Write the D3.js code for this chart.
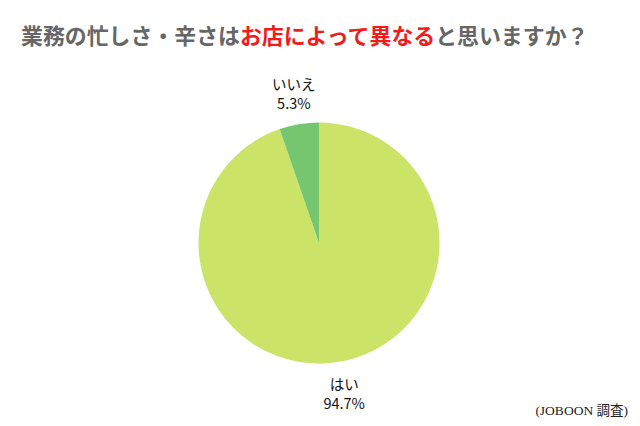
<!DOCTYPE html>
<html><head><meta charset="utf-8">
<script src="https://cdn.jsdelivr.net/npm/d3@7"></script>
<style>body{margin:0;background:#fff;}svg{display:block;}</style>
</head><body>
<svg id="c" width="640" height="426"></svg>
<script>
const categories = ["はい", "いいえ"];
const values = [94.7, 5.3];
const valueLabels = ["94.7%", "5.3%"];
const colors = ["#cbe367", "#75c66f"];

const svg = d3.select("#c");
svg.append("rect").attr("width",640).attr("height",426).attr("fill","#fff");

const title = svg.append("text").attr("x",21).attr("y",44)
  .attr("font-family","'Noto Sans CJK JP', sans-serif").attr("font-weight","bold")
  .attr("font-size",21.9).attr("fill","#666");
title.append("tspan").text("業務の忙しさ・辛さは");
title.append("tspan").attr("fill","#f01c1c").text("お店によって異なる");
title.append("tspan").text("と思いますか？");

const cx = 319, cy = 243, r = 120.5;
const g = svg.append("g").attr("transform",`translate(${cx},${cy})`);
const pie = d3.pie().sort(null).value(d=>d)(values);
const arc = d3.arc().innerRadius(0).outerRadius(r);
g.selectAll("path").data(pie).enter().append("path")
  .attr("d",arc).attr("fill",(d,i)=>colors[i]);

const labelArc = d3.arc().innerRadius(152).outerRadius(152);
pie.forEach((d,i)=>{
  const [x,y] = labelArc.centroid(d);
  const t = g.append("text").attr("text-anchor","middle")
    .attr("font-family","'Noto Sans CJK JP', sans-serif")
    .attr("font-size",14.5).attr("fill","#111");
  t.append("tspan").attr("x",x).attr("y",y-3).text(categories[i]);
  t.append("tspan").attr("x",x).attr("y",y+16).text(valueLabels[i]);
});

svg.append("text").attr("x",628).attr("y",415).attr("text-anchor","end")
  .attr("font-family","'Liberation Serif', 'Noto Sans CJK JP', serif").attr("font-size",13.5).attr("fill","#222")
  .text("(JOBOON 調査)");
</script>
</body></html>
